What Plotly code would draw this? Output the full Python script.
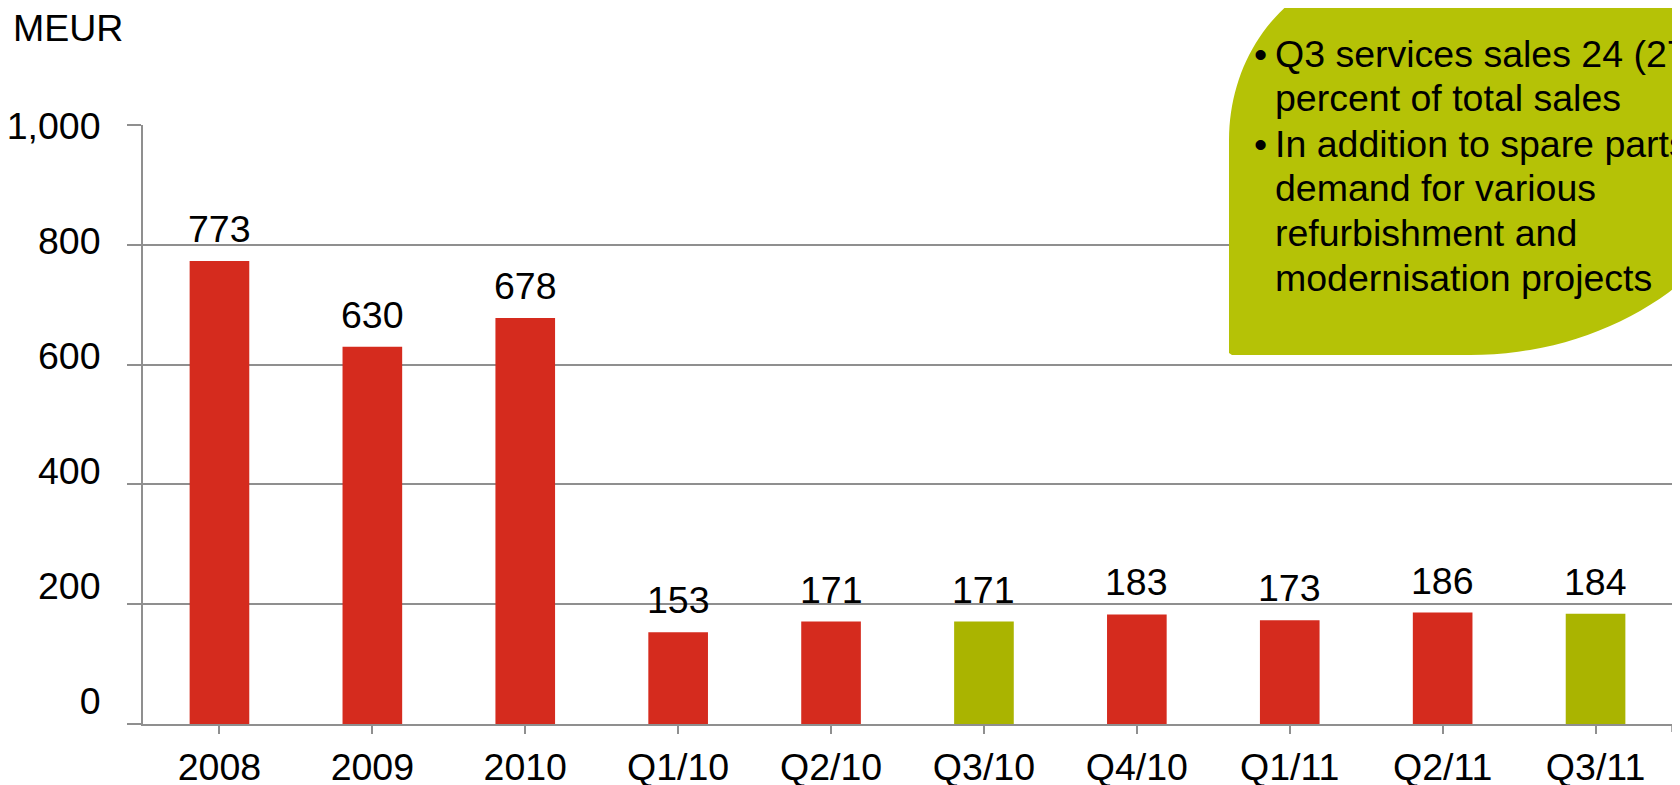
import numpy as np
import plotly.graph_objects as go

# ---- data ----
categories = ["2008", "2009", "2010", "Q1/10", "Q2/10", "Q3/10", "Q4/10", "Q1/11", "Q2/11", "Q3/11"]
sales = [773, 630, 678, 153, 171, 171, 183, 173, 186, 184]
highlight = [False, False, False, False, False, True, False, False, False, True]
y_ticks = [0, 200, 400, 600, 800, 1000]
y_tick_text = ["0", "200", "400", "600", "800", "1,000"]
unit_label = "MEUR"
callout_lines = [
    ("•", "Q3 services sales 24 (27)"),
    ("", "percent of total sales"),
    ("•", "In addition to spare parts"),
    ("", "demand for various"),
    ("", "refurbishment and"),
    ("", "modernisation projects"),
]

# ---- style ----
RED = "#D52B1E"
GREEN = "#AAB400"
CALLOUT = "#B5C206"
GRID = "#8F8F8F"
FONT = "Liberation Sans, Arial, sans-serif"
FS = 37.5

OFF = 8  # page body margin
W, H = 1680 - OFF, 785 - OFF
# plot area in page pixels
PL, PR, PT, PB = 143, 1672, 125, 724


def px_x(px):
    return (px - PL) / (PR - PL)


def px_y(py):
    return (PB - py) / (PB - PT)


colors = [GREEN if h else RED for h in highlight]
xidx = list(range(len(categories)))

fig = go.Figure()
fig.add_trace(go.Bar(x=xidx, y=sales, marker=dict(color=colors, line=dict(width=0)),
                     hovertext=categories, hoverinfo="text+y", showlegend=False))
# invisible trace to carry the label axis
fig.add_trace(go.Scatter(x=[0], y=[0], yaxis="y2", mode="markers",
                         marker=dict(opacity=0), hoverinfo="skip", showlegend=False))

# data labels
annotations = []
for i, v in zip(xidx, sales):
    annotations.append(dict(x=i, y=v, xref="x", yref="y", text=str(v), showarrow=False,
                            yanchor="middle", yshift=32, font=dict(size=FS, color="black", family=FONT)))

# unit label
annotations.append(dict(x=px_x(11), y=px_y(28), xref="paper", yref="paper", text=unit_label,
                        showarrow=False, xanchor="left", yanchor="middle",
                        font=dict(size=FS, color="black", family=FONT)))

# callout shape (leaf-like rounded box)
pts = [(1229, 353), (1229, 140)]
for th in np.linspace(0, np.pi / 2, 40):
    pts.append((1379 - 150 * np.cos(th), 140 - 170 * np.sin(th)))
pts += [(1850, -30), (1850, 105)]
for ph in np.linspace(0, np.pi / 2, 40):
    pts.append((1470 + 300 * np.cos(ph), 105 + 250 * np.sin(ph)))
pts += [(1232, 355)]
path = "M " + " L ".join(f"{px_x(x):.5f},{px_y(y):.5f}" for x, y in pts) + " Z"

shapes = [
    dict(type="path", path=path, xref="paper", yref="paper",
         fillcolor=CALLOUT, line=dict(width=0), layer="above"),
    # closing tick at the right end of the category axis
    dict(type="line", xref="paper", yref="paper", x0=1, x1=1, y0=0, y1=-8 / (PB - PT),
         line=dict(color=GRID, width=1.5), layer="above"),
]

line_centers = [54, 98, 144, 188, 233, 278]
for (bullet, txt), cy in zip(callout_lines, line_centers):
    if bullet:
        annotations.append(dict(x=px_x(1252), y=px_y(cy), xref="paper", yref="paper", text=bullet,
                                showarrow=False, xanchor="left", yanchor="middle",
                                font=dict(size=FS, color="black", family=FONT)))
    annotations.append(dict(x=px_x(1273), y=px_y(cy), xref="paper", yref="paper", text=txt,
                            showarrow=False, xanchor="left", yanchor="middle",
                            font=dict(size=FS, color="black", family=FONT)))

fig.update_layout(
    width=W, height=H,
    margin=dict(l=PL - OFF, r=W - (PR - OFF), t=PT - OFF, b=H - (PB - OFF), pad=0, autoexpand=False),
    paper_bgcolor="white", plot_bgcolor="white",
    bargap=0.61,
    font=dict(family=FONT, size=FS, color="black"),
    xaxis=dict(range=[-0.5, len(categories) - 0.5], tickmode="array", tickvals=xidx,
               ticktext=categories, showline=True, linecolor=GRID, linewidth=1.5,
               ticks="outside", ticklen=8, tickwidth=1.5, tickcolor=GRID,
               showgrid=False, zeroline=False, tickfont=dict(size=FS, color="black", family=FONT),
               ticklabelstandoff=1, fixedrange=True, automargin=False),
    yaxis=dict(range=[0, 1000], tickvals=y_ticks, showticklabels=False,
               showgrid=True, gridcolor=GRID, gridwidth=1.5,
               showline=True, linecolor=GRID, linewidth=1.5,
               ticks="outside", ticklen=14, tickwidth=1.5, tickcolor=GRID,
               zeroline=False, fixedrange=True, automargin=False),
    yaxis2=dict(overlaying="y", side="left", anchor="x", range=[-40, 1001],
                tickvals=y_ticks, ticktext=y_tick_text, showgrid=False, zeroline=False,
                showline=False, ticks="outside", ticklen=14, tickcolor="rgba(0,0,0,0)",
                ticklabelstandoff=20, tickfont=dict(size=FS, color="black", family=FONT),
                fixedrange=True, automargin=False),
    shapes=shapes,
    annotations=annotations,
)

fig.write_html("out.html")
